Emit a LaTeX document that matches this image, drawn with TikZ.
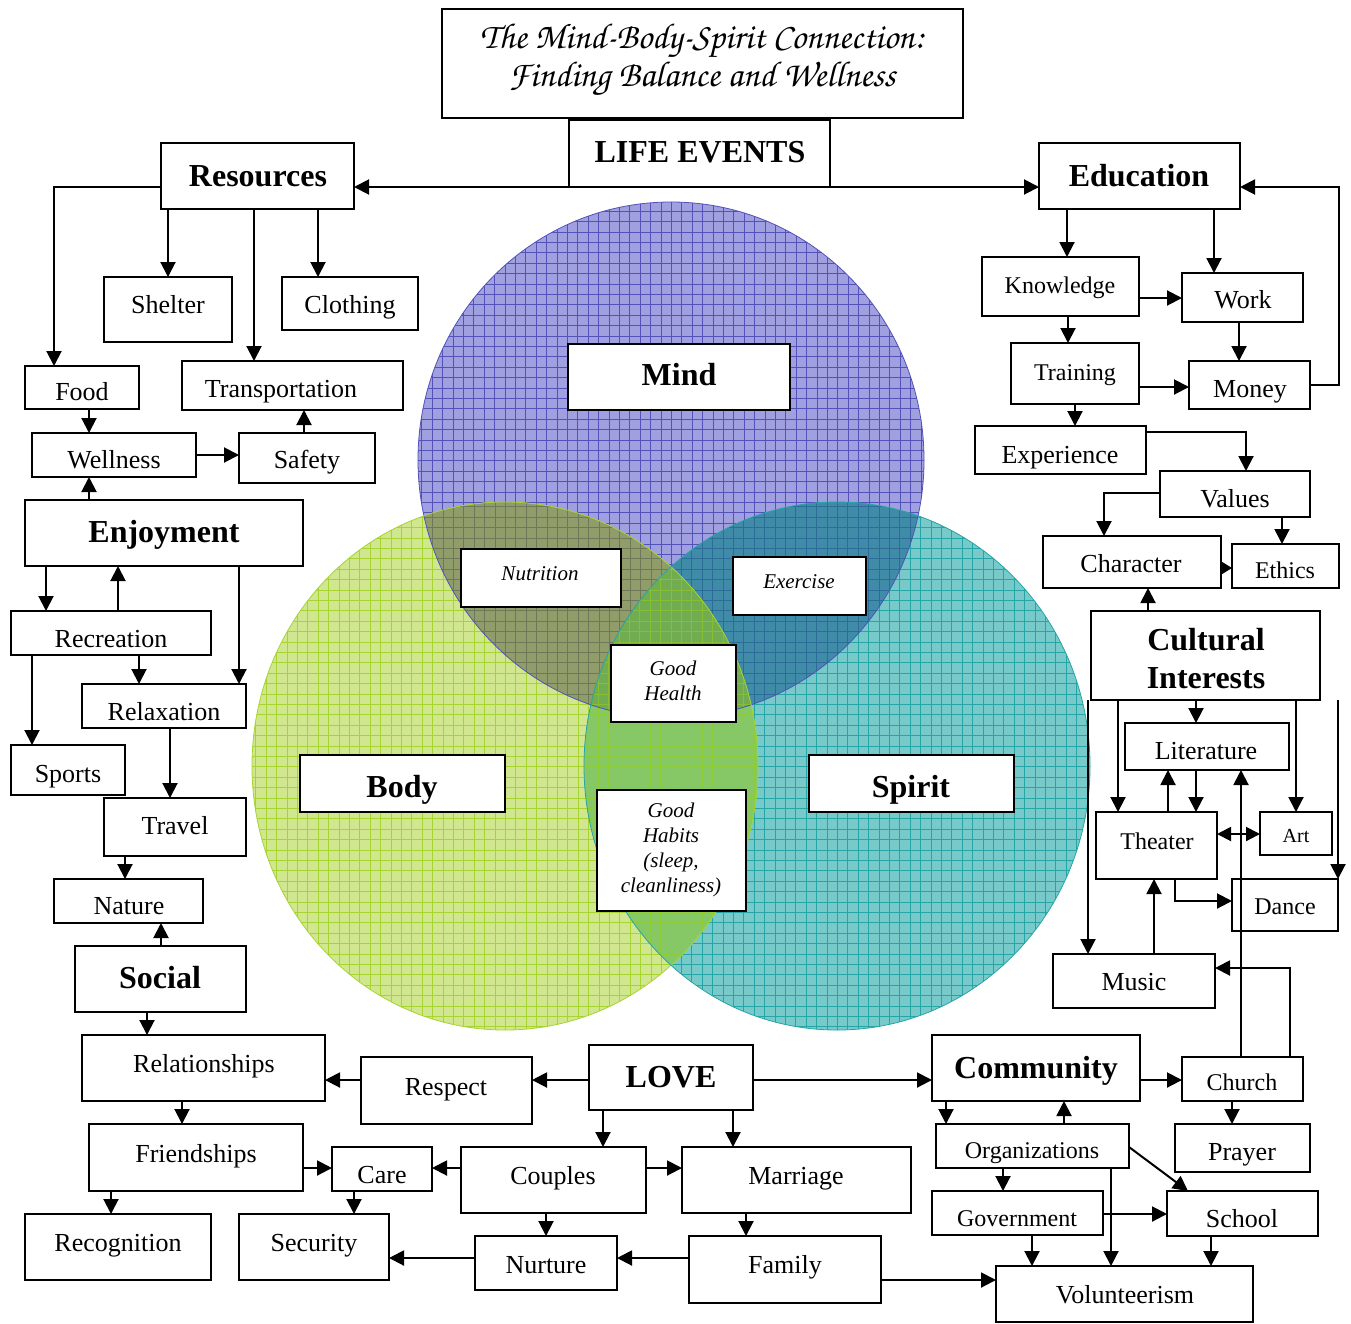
\documentclass[tikz,border=0pt]{standalone}
\usepackage[T1]{fontenc}
\usepackage{fontspec}
\setmainfont{Liberation Serif}
\usetikzlibrary{arrows.meta}
\definecolor{mindc}{HTML}{A0A0E0}
\definecolor{bodyc}{HTML}{D0E790}
\definecolor{spiritc}{HTML}{78CACA}
\definecolor{mbc}{HTML}{909C6A}
\definecolor{msc}{HTML}{408CA8}
\definecolor{bsc}{HTML}{86C865}
\definecolor{allc}{HTML}{72AC50}
\definecolor{mindl}{HTML}{5252B8}
\definecolor{bodyl}{HTML}{A8D432}
\definecolor{spiritl}{HTML}{25A5A5}
\definecolor{mbl}{HTML}{6C7858}
\definecolor{msl}{HTML}{2C6C98}
\definecolor{bsl}{HTML}{8ECC36}
\definecolor{alll}{HTML}{86BE36}
\newcommand\titlefnt{\fontencoding{T1}\fontfamily{pzc}\fontseries{mb}\fontshape{it}\selectfont}
\newcommand\bx[9]{%
  \node[box, minimum width={#5-#3}, minimum height={#6-#4}] (#2) at ({(#3+#5)/2},{(#4+#6)/2}) {};
  \node[#1] (#2-t) at (#7,#8) {#9};
}
\newcommand\circgrid[4]{%
  \begin{scope}
  \clip (#1,#2) ellipse [x radius=253, y radius=#3];
  \foreach \k in {0,...,52} {
    \draw[#4, line width=0.7pt] ({#1-270+\k*10.4},{#2-280}) -- ++(0,560);
    \draw[#4, line width=0.7pt] ({#1-270},{#2-280+\k*10.4}) -- ++(540,0);
  }
  \end{scope}}
\newcommand\Mpath{(671,460) ellipse [x radius=253, y radius=258]}
\newcommand\Bpath{(505,766) ellipse [x radius=253, y radius=264]}
\newcommand\Spath{(837,766) ellipse [x radius=253, y radius=264]}
\tikzset{
  box/.style={draw, line width=2.2pt, fill=white, rectangle, inner sep=0pt, outer sep=0pt},
  arr/.style={line width=2pt, -{Triangle[length=15pt,width=15pt]}},
  arrs/.style={line width=2pt, -{Triangle[length=11pt,width=13pt]}},
  arr2/.style={line width=2pt, {Triangle[length=14pt,width=14pt]}-{Triangle[length=14pt,width=14pt]}},
  tn/.style={anchor=base, yshift=-9pt, font=\fontsize{26}{30}\selectfont, inner sep=0pt},
  ts/.style={anchor=base, yshift=-8pt, font=\fontsize{24}{28}\selectfont, inner sep=0pt},
  ta/.style={anchor=base, yshift=-7pt, font=\fontsize{20}{24}\selectfont, inner sep=0pt},
  tb/.style={anchor=base, yshift=-11pt, font=\fontsize{32}{38}\selectfont\bfseries, inner sep=0pt},
  ti/.style={anchor=base, yshift=-7pt, font=\fontsize{21}{25}\selectfont\itshape, inner sep=0pt},
  tbm/.style={align=center, font=\fontsize{32}{38}\selectfont\bfseries, inner sep=0pt},
  tim/.style={align=center, font=\fontsize{21}{25}\selectfont\itshape, inner sep=0pt},
  ttl/.style={align=center, font=\titlefnt\fontsize{36}{38}\selectfont, inner sep=0pt},
}
\begin{document}
\begin{tikzpicture}[x=1pt,y=-1pt]
\useasboundingbox (0,0) rectangle (1351,1323);
\fill[white] (0,0) rectangle (1351,1323);
% circles, painted region by region
\fill[mindc] \Mpath;
\circgrid{671}{460}{258}{mindl}
\fill[bodyc] \Bpath;
\circgrid{505}{766}{264}{bodyl}
\begin{scope}\clip \Mpath;
  \fill[mbc] \Bpath;
  \circgrid{505}{766}{264}{mbl}
\end{scope}
\fill[spiritc] \Spath;
\circgrid{837}{766}{264}{spiritl}
\begin{scope}\clip \Mpath;
  \fill[msc] \Spath;
  \circgrid{837}{766}{264}{msl}
\end{scope}
\begin{scope}\clip \Bpath;
  \fill[bsc] \Spath;
  \circgrid{837}{766}{264}{bsl}
\end{scope}
\begin{scope}\clip \Mpath;
  \clip \Bpath;
  \fill[allc] \Spath;
  \circgrid{837}{766}{264}{alll}
\end{scope}
\draw[mindl, line width=0.8pt] \Mpath;
\draw[bodyl, line width=0.8pt] \Bpath;
\draw[spiritl, line width=0.8pt] \Spath;

% boxes
\bx{ttl}{title}{442}{9}{963}{118}{702}{60}{The Mind-Body-Spirit Connection:\\Finding Balance and Wellness}
\bx{tb}{life}{569}{120}{830}{187}{700}{151}{LIFE EVENTS}
\bx{tb}{res}{161}{143}{354}{209}{258}{175}{Resources}
\bx{tb}{edu}{1039}{143}{1240}{209}{1139}{175}{Education}
\bx{tn}{shel}{104}{277}{232}{342}{168}{304}{Shelter}
\bx{tn}{cloth}{282}{277}{418}{330}{350}{304}{Clothing}
\bx{tn}{food}{25}{366}{139}{409}{82}{391}{Food}
\bx{tn}{trans}{182}{361}{403}{410}{281}{388}{Transportation}
\bx{tn}{well}{32}{433}{196}{477}{114}{459}{Wellness}
\bx{tn}{safe}{239}{433}{375}{483}{307}{459}{Safety}
\bx{tb}{enjoy}{25}{500}{303}{566}{164}{531}{Enjoyment}
\bx{tn}{recr}{11}{611}{211}{655}{111}{638}{Recreation}
\bx{tn}{relax}{82}{684}{246}{728}{164}{711}{Relaxation}
\bx{tn}{sports}{11}{745}{125}{795}{68}{773}{Sports}
\bx{tn}{travel}{104}{798}{246}{856}{175}{825}{Travel}
\bx{tn}{nature}{54}{879}{203}{923}{129}{905}{Nature}
\bx{tb}{social}{75}{946}{246}{1012}{160}{977}{Social}
\bx{tn}{rel}{82}{1035}{325}{1101}{204}{1063}{Relationships}
\bx{tn}{resp}{361}{1057}{532}{1124}{446}{1086}{Respect}
\bx{tb}{love}{589}{1045}{753}{1110}{671}{1076}{LOVE}
\bx{tb}{comm}{932}{1035}{1140}{1101}{1036}{1067}{Community}
\bx{ts}{church}{1182}{1057}{1303}{1101}{1242}{1082}{Church}
\bx{tn}{prayer}{1175}{1124}{1310}{1172}{1242}{1151}{Prayer}
\bx{ts}{org}{936}{1124}{1129}{1168}{1032}{1150}{Organizations}
\bx{ts}{gov}{932}{1191}{1103}{1235}{1017}{1218}{Government}
\bx{tn}{school}{1167}{1191}{1318}{1236}{1242}{1218}{School}
\bx{tn}{vol}{996}{1266}{1253}{1322}{1125}{1294}{Volunteerism}
\bx{tn}{friend}{89}{1124}{303}{1191}{196}{1153}{Friendships}
\bx{tn}{care}{332}{1147}{432}{1191}{382}{1174}{Care}
\bx{tn}{coup}{461}{1147}{646}{1213}{553}{1175}{Couples}
\bx{tn}{marr}{682}{1147}{911}{1213}{796}{1175}{Marriage}
\bx{tn}{recog}{25}{1214}{211}{1280}{118}{1242}{Recognition}
\bx{tn}{secur}{239}{1214}{389}{1280}{314}{1242}{Security}
\bx{tn}{nurt}{475}{1236}{617}{1290}{546}{1264}{Nurture}
\bx{tn}{fam}{689}{1236}{881}{1303}{785}{1264}{Family}
\bx{ts}{know}{982}{257}{1139}{316}{1060}{285}{Knowledge}
\bx{tn}{work}{1182}{273}{1303}{322}{1243}{299}{Work}
\bx{ts}{train}{1011}{343}{1139}{404}{1075}{372}{Training}
\bx{tn}{money}{1189}{361}{1310}{409}{1250}{388}{Money}
\bx{tn}{exper}{975}{426}{1146}{474}{1060}{454}{Experience}
\bx{tn}{values}{1160}{471}{1310}{517}{1235}{498}{Values}
\bx{tn}{char}{1043}{536}{1221}{588}{1131}{563}{Character}
\bx{ts}{ethics}{1232}{544}{1339}{588}{1285}{570}{Ethics}
\bx{tbm}{cult}{1091}{611}{1320}{700}{1206}{659}{Cultural\\Interests}
\bx{tn}{lit}{1125}{723}{1289}{770}{1206}{750}{Literature}
\bx{ts}{theat}{1096}{812}{1217}{879}{1157}{841}{Theater}
\bx{ta}{art}{1260}{812}{1332}{855}{1296}{835}{Art}
\bx{ts}{dance}{1232}{879}{1338}{931}{1285}{906}{Dance}
\bx{tn}{music}{1053}{954}{1215}{1008}{1134}{981}{Music}
\bx{tb}{mind}{568}{344}{790}{410}{679}{374}{Mind}
\bx{tb}{body}{300}{755}{505}{812}{402}{786}{Body}
\bx{tb}{spirit}{809}{755}{1014}{812}{911}{786}{Spirit}
\bx{ti}{nutr}{461}{549}{621}{607}{540}{573}{Nutrition}
\bx{ti}{exer}{733}{557}{866}{615}{799}{581}{Exercise}
\bx{tim}{ghealth}{611}{645}{736}{722}{673}{681}{Good\\Health}
\bx{tim}{ghabits}{597}{790}{746}{911}{671}{850}{Good\\Habits\\(sleep,\\cleanliness)}

% connectors
\draw[arr] (life.south west) -- (res.east |- life.south west);
\draw[arr] (life.south east) -- (edu.west |- life.south east);
\draw[arr] (res.west |- 0,187) -- (54,187) -- (food.north -| 54,0);
\draw[arr] (res.south -| 168,0) -- (shel.north -| 168,0);
\draw[arr] (res.south -| 254,0) -- (trans.north -| 254,0);
\draw[arr] (res.south -| 318,0) -- (cloth.north -| 318,0);
\draw[arr] (food.south -| 89,0) -- (well.north -| 89,0);
\draw[arr] (well.east) -- (safe.west |- well.east);
\draw[arr] (safe.north -| 304,0) -- (trans.south -| 304,0);
\draw[arr] (enjoy.north -| 89,0) -- (well.south -| 89,0);
\draw[arr] (enjoy.south -| 46,0) -- (recr.north -| 46,0);
\draw[arr] (recr.north -| 118,0) -- (enjoy.south -| 118,0);
\draw[arr] (enjoy.south -| 239,0) -- (relax.north -| 239,0);
\draw[arr] (recr.south -| 139,0) -- (relax.north -| 139,0);
\draw[arr] (recr.south -| 32,0) -- (sports.north -| 32,0);
\draw[arr] (relax.south -| 170,0) -- (travel.north -| 170,0);
\draw[arr] (travel.south -| 125,0) -- (nature.north -| 125,0);
\draw[arr] (social.north -| 161,0) -- (nature.south -| 161,0);
\draw[arr] (social.south -| 147,0) -- (rel.north -| 147,0);
\draw[arr] (resp.west |- 0,1080) -- (rel.east |- 0,1080);
\draw[arr] (love.west |- 0,1080) -- (resp.east |- 0,1080);
\draw[arr] (love.east |- 0,1080) -- (comm.west |- 0,1080);
\draw[arr] (love.south -| 603,0) -- (coup.north -| 603,0);
\draw[arr] (love.south -| 733,0) -- (marr.north -| 733,0);
\draw[arr] (coup.east |- 0,1168) -- (marr.west |- 0,1168);
\draw[arr] (coup.west |- 0,1168) -- (care.east |- 0,1168);
\draw[arr] (friend.east |- 0,1168) -- (care.west |- 0,1168);
\draw[arr] (rel.south -| 182,0) -- (friend.north -| 182,0);
\draw[arr] (friend.south -| 111,0) -- (recog.north -| 111,0);
\draw[arr] (care.south -| 354,0) -- (secur.north -| 354,0);
\draw[arr] (nurt.west |- 0,1258) -- (secur.east |- 0,1258);
\draw[arr] (coup.south -| 546,0) -- (nurt.north -| 546,0);
\draw[arr] (marr.south -| 746,0) -- (fam.north -| 746,0);
\draw[arr] (fam.west |- 0,1258) -- (nurt.east |- 0,1258);
\draw[arr] (fam.east |- 0,1280) -- (vol.west |- 0,1280);
\draw[arr] (comm.east |- 0,1080) -- (church.west |- 0,1080);
\draw[arr] (church.south -| 1232,0) -- (prayer.north -| 1232,0);
\draw[arr] (comm.south -| 946,0) -- (org.north -| 946,0);
\draw[arr] (org.north -| 1064,0) -- (comm.south -| 1064,0);
\draw[arr] (org.east |- 0,1147) -- (school.north -| 1188,0);
\draw[arr] (org.south -| 1003,0) -- (gov.north -| 1003,0);
\draw[arr] (org.south -| 1111,0) -- (vol.north -| 1111,0);
\draw[arr] (gov.east |- 0,1214) -- (school.west |- 0,1214);
\draw[arr] (gov.south -| 1032,0) -- (vol.north -| 1032,0);
\draw[arr] (school.south -| 1211,0) -- (vol.north -| 1211,0);
\draw[arr] (church.north -| 1241,0) -- (lit.south -| 1241,0);
\draw[arr] (church.north -| 1290,0) -- (1290,968) -- (music.east |- 0,968);
\draw[arr] (edu.south -| 1067,0) -- (know.north -| 1067,0);
\draw[arr] (edu.south -| 1214,0) -- (work.north -| 1214,0);
\draw[arr] (money.east) -- (money.east -| 1339,0) -- (1339,187) -- (edu.east |- 0,187);
\draw[arr] (know.east |- 0,298) -- (work.west |- 0,298);
\draw[arr] (work.south -| 1239,0) -- (money.north -| 1239,0);
\draw[arr] (know.south -| 1068,0) -- (train.north -| 1068,0);
\draw[arr] (train.east |- 0,387) -- (money.west |- 0,387);
\draw[arr] (train.south -| 1075,0) -- (exper.north -| 1075,0);
\draw[arr] (exper.east |- 0,432) -- (1246,432) -- (values.north -| 1246,0);
\draw[arr] (values.west |- 0,493) -- (1104,493) -- (char.north -| 1104,0);
\draw[arr] (values.south -| 1282,0) -- (ethics.north -| 1282,0);
\draw[arrs] (char.east |- 0,568) -- (ethics.west |- 0,568);
\draw[arr] (cult.north -| 1148,0) -- (char.south -| 1148,0);
\draw[arr] (cult.south -| 1088,0) -- (music.north -| 1088,0);
\draw[arr] (cult.south -| 1118,0) -- (theat.north -| 1118,0);
\draw[arr] (cult.south -| 1196,0) -- (lit.north -| 1196,0);
\draw[arr] (cult.south -| 1296,0) -- (art.north -| 1296,0);
\draw[arr] (cult.south -| 1338,0) -- (dance.north east);
\draw[arr] (theat.north -| 1168,0) -- (lit.south -| 1168,0);
\draw[arr] (lit.south -| 1196,0) -- (theat.north -| 1196,0);
\draw[arr2] (theat.east |- 0,834) -- (art.west |- 0,834);
\draw[arr] (theat.south -| 1175,0) -- (1175,901) -- (dance.west |- 0,901);
\draw[arr] (music.north -| 1154,0) -- (theat.south -| 1154,0);
\end{tikzpicture}
\end{document}
